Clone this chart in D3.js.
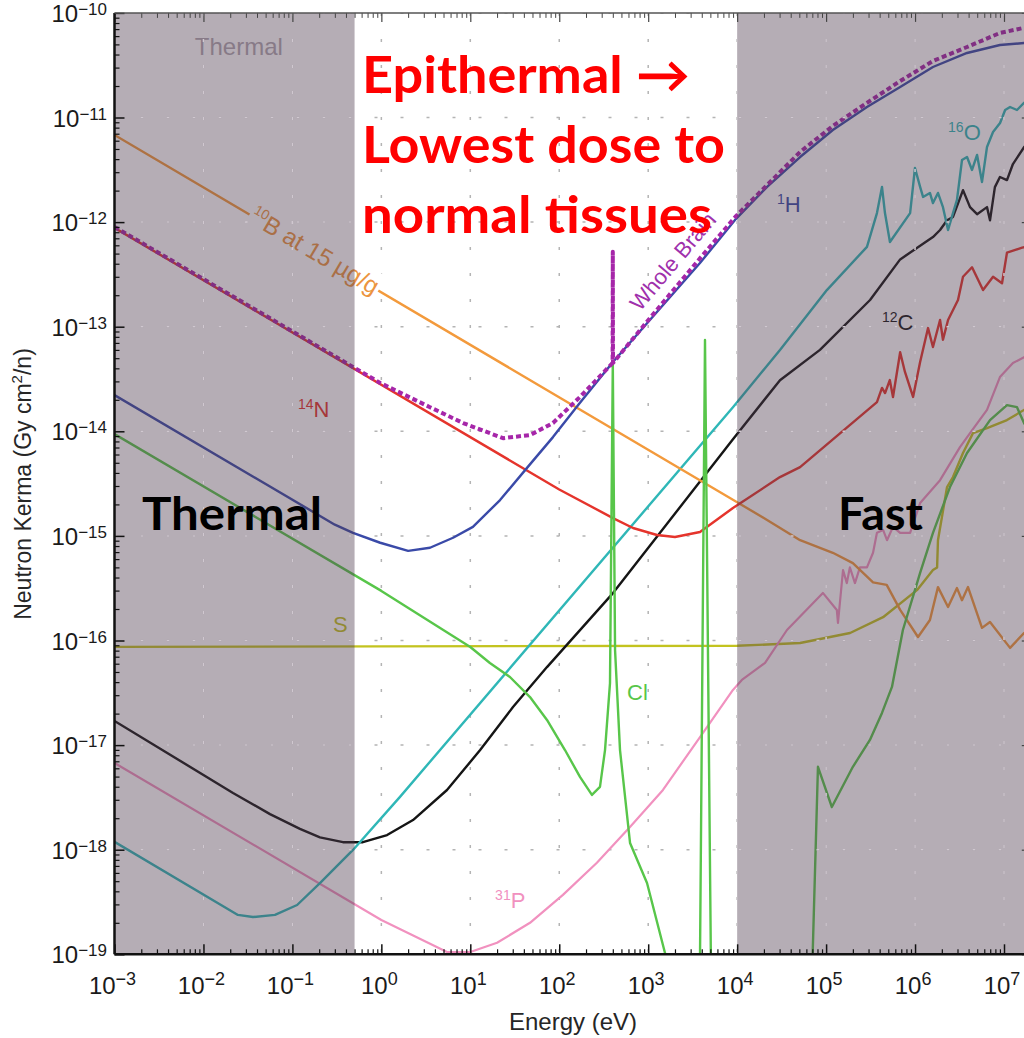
<!DOCTYPE html>
<html>
<head>
<meta charset="utf-8">
<title>Neutron Kerma</title>
<script src="https://cdn.jsdelivr.net/npm/d3@7"></script>
<style>
  * { margin: 0; padding: 0; }
  body { background: #fff; }
  svg { display: block; font-family: "Liberation Sans", Arial, sans-serif; }
</style>
</head>
<body>
<div id="chart"></div>
<script>
// energy in eV, kerma in Gy cm2/n
var xDecades = [-3, -2, -1, 0, 1, 2, 3, 4, 5, 6, 7];
var yDecades = [-10, -11, -12, -13, -14, -15, -16, -17, -18, -19];

var boron10 = [[1e-3, 6.8e-12], [1e4, 2.1e-15], [2.17e4, 1.42e-15], [5.1e4, 9.1e-16], [1.19e5, 6.9e-16],
  [2.0e5, 5.5e-16], [3.37e5, 3.6e-16], [4.8e5, 3.4e-16], [6.8e5, 1.96e-16], [1.08e6, 1.08e-16],
  [1.47e6, 1.57e-16], [1.81e6, 3.24e-16], [2.35e6, 2.09e-16], [2.96e6, 3.17e-16], [3.37e6, 2.43e-16],
  [3.94e6, 3.24e-16], [5.66e6, 1.32e-16], [6.96e6, 1.5e-16], [1.17e7, 8.5e-17], [1.68e7, 1.18e-16],
  [2.2e7, 1.0e-16]];

var nitrogen14 = [[1e-3, 8.8e-13], [100, 2.78e-15], [402, 1.48e-15], [675, 1.19e-15], [1256, 1.02e-15],
  [2000, 9.75e-16], [3820, 1.09e-15], [8970, 1.85e-15], [3.03e4, 3.65e-15], [5.1e4, 4.55e-15],
  [3.73e5, 1.9e-14], [4.25e5, 2.6e-14], [4.6e5, 2.32e-14], [5.2e5, 3.09e-14], [5.65e5, 2.13e-14],
  [6.8e5, 5.7e-14], [7.7e5, 3.69e-14], [9.5e5, 2.13e-14], [1.14e6, 4.6e-14], [1.4e6, 9.7e-14],
  [1.59e6, 6.4e-14], [1.91e6, 1.16e-13], [2.06e6, 7.5e-14], [2.35e6, 1.16e-13], [3.04e6, 1.8e-13],
  [3.46e6, 3.0e-13], [4.37e6, 3.7e-13], [5.81e6, 2.24e-13], [7.53e6, 3.0e-13], [9.5e6, 2.6e-13],
  [1.08e7, 5.1e-13], [1.6e7, 5.7e-13], [2.2e7, 6.0e-13]];

var hydrogen1 = [[1e-3, 2.22e-14], [0.3, 1.28e-15], [0.48, 1.07e-15], [0.97, 8.6e-16], [2.0, 7.2e-16],
  [3.52, 7.7e-16], [6.4, 9.6e-16], [10.7, 1.22e-15], [21.6, 2.2e-15], [43.4, 4.47e-15], [85, 8.8e-15],
  [171, 1.87e-14], [402, 4.6e-14], [3820, 4.06e-13], [9460, 1.05e-12], [2.17e4, 2.17e-12],
  [5.1e4, 4.19e-12], [1.19e5, 7.6e-12], [2.88e5, 1.26e-11], [6.8e5, 1.96e-11], [1.59e6, 3.04e-11],
  [3.84e6, 4.14e-11], [9.0e6, 4.93e-11], [1.68e7, 5.15e-11], [2.2e7, 5.15e-11]];

var wholeBrain = [[1e-3, 9.0e-13], [0.97, 2.9e-14], [3.52, 1.7e-14], [8.3, 1.2e-14], [23.3, 8.6e-15],
  [46.9, 9.2e-15], [85, 1.2e-14], [171, 2.13e-14], [398, 4.5e-14], [400, 5.2e-13], [402, 4.5e-14],
  [1047, 1.21e-13], [3820, 4.5e-13], [9700, 1.14e-12], [2.17e4, 2.26e-12], [5.1e4, 4.68e-12],
  [1.19e5, 8.3e-12], [2.88e5, 1.38e-11], [6.8e5, 2.23e-11], [1.59e6, 3.47e-11], [3.84e6, 4.72e-11],
  [9.0e6, 6.43e-11], [1.68e7, 7.2e-11], [2.2e7, 7.5e-11]];

var oxygen16 = [[1e-3, 1.19e-18], [0.0244, 2.38e-19], [0.036, 2.27e-19], [0.0637, 2.38e-19],
  [0.113, 2.96e-19], [0.204, 4.8e-19], [0.48, 9.95e-19], [1.62, 3.2e-18], [8970, 1.7e-14],
  [3.03e4, 6.0e-14], [1.02e5, 2.24e-13], [2.88e5, 5.8e-13], [3.73e5, 1.22e-12], [4.25e5, 2.17e-12],
  [4.59e5, 1.22e-12], [5.22e5, 6.45e-13], [8.8e5, 1.22e-12], [9.98e5, 3.29e-12], [1.14e6, 2.17e-12],
  [1.23e6, 1.74e-12], [1.47e6, 1.9e-12], [1.59e6, 1.52e-12], [1.81e6, 1.9e-12], [2.06e6, 1.39e-12],
  [2.35e6, 8.4e-13], [2.67e6, 1.22e-12], [2.96e6, 1.63e-12], [3.37e6, 3.92e-12], [3.84e6, 4.19e-12],
  [4.37e6, 3.15e-12], [4.98e6, 4.38e-12], [5.66e6, 2.42e-12], [6.44e6, 5.22e-12], [7.53e6, 7.26e-12],
  [9.03e6, 8.85e-12], [1.03e7, 1.18e-11], [1.17e7, 1.26e-11], [1.4e7, 1.18e-11], [1.68e7, 1.38e-11],
  [2.2e7, 1.55e-11]];

var carbon12 = [[1e-3, 1.7e-17], [0.0215, 3.49e-18], [0.056, 2.19e-18], [0.1216, 1.58e-18], [0.204, 1.31e-18],
  [0.37, 1.18e-18], [0.62, 1.18e-18], [1.16, 1.38e-18],
  [2.27, 1.92e-18], [5.47, 3.72e-18], [12.9, 8.97e-18], [30.2, 2.31e-17], [72.8, 5.57e-17],
  [402, 2.84e-16], [8970, 8.4e-15], [3.03e4, 3.08e-14], [8.53e4, 6.0e-14], [3.12e5, 1.8e-13],
  [6.8e5, 4.4e-13], [1.59e6, 7.2e-13], [1.91e6, 8.4e-13], [2.29e6, 1.04e-12],
  [2.67e6, 1.12e-12], [3.46e6, 2.02e-12], [4.15e6, 1.39e-12], [4.98e6, 1.19e-12], [6.44e6, 1.39e-12],
  [6.96e6, 1.04e-12], [7.9e6, 2.16e-12], [9.0e6, 2.7e-12], [1.08e7, 2.52e-12], [1.26e7, 3.59e-12],
  [1.68e7, 5.2e-12], [2.2e7, 6.5e-12]];

var sulfur = [[1e-3, 8.7e-17], [1e4, 8.9e-17], [5.1e4, 9.46e-17], [1.86e5, 1.18e-16], [4.37e5, 1.67e-16],
  [1.05e6, 3.03e-16], [1.59e6, 4.71e-16], [1.77e6, 5.0e-16], [1.81e6, 9.1e-16], [2.29e6, 2.93e-15],
  [2.67e6, 3.65e-15], [3.46e6, 6.2e-15], [4.48e6, 9.6e-15], [6.44e6, 1.07e-14], [1.08e7, 1.28e-14],
  [1.68e7, 1.6e-14], [2.2e7, 1.8e-14]];

var chlorine = [[1e-3, 9.4e-15], [1, 2.98e-16], [10, 8.67e-17], [16.6, 6.1e-17], [27.9, 4.48e-17],
  [46.9, 2.88e-17], [72.8, 1.74e-17], [116, 8.97e-18],
  [171, 4.96e-18], [233, 3.34e-18], [287, 3.98e-18], [327, 8.97e-18], [372, 3.92e-17], [400, 4.5e-14],
  [424, 8.1e-17], [482, 8.97e-18], [625, 1.16e-18], [970, 4.8e-19], [1545, 1.03e-19], [1675, 7.9e-20],
  [3800, 5e-20], [4350, 7.46e-14], [5100, 5e-20], [6.9e4, 5e-20], [8.1e4, 6.2e-18], [1.16e5, 2.56e-18],
  [2.0e5, 6.2e-18], [3.11e5, 1.12e-17], [4.25e5, 2.03e-17], [5.5e5, 3.6e-17], [7.3e5, 1.26e-16],
  [1.14e6, 4.43e-16], [1.59e6, 1.07e-15], [2.47e6, 2.93e-15], [3.84e6, 6.2e-15], [6.96e6, 1.28e-14],
  [1.08e7, 1.78e-14], [1.4e7, 1.7e-14], [1.68e7, 1.2e-14], [2.2e7, 8.3e-15]];

var phosphorus31 = [[1e-3, 6.75e-18], [1, 2.13e-19], [5.47, 1.05e-19], [10, 1.05e-19], [20, 1.29e-19],
  [46.9, 2.0e-19], [110, 3.7e-19], [265, 7.5e-19], [624, 1.65e-18], [1466, 3.73e-18], [4130, 1.31e-17],
  [8970, 3.37e-17], [1.13e4, 4.2e-17], [2.06e4, 6.1e-17], [3.63e4, 1.26e-16], [9.2e4, 2.85e-16],
  [1.32e5, 1.96e-16], [1.36e5, 1.47e-16], [1.55e5, 4.72e-16], [1.71e5, 3.54e-16], [1.85e5, 5.0e-16],
  [2.11e5, 3.54e-16], [2.4e5, 5.0e-16], [2.88e5, 5.0e-16], [3.37e5, 6.9e-16], [3.73e5, 1.07e-15],
  [4.37e5, 1.14e-15], [4.84e5, 9.1e-16], [5.65e5, 1.22e-15], [6.8e5, 1.07e-15], [8.8e5, 1.07e-15],
  [1.14e6, 2.06e-15], [1.91e6, 3.41e-15], [3.2e6, 7.05e-15], [4.15e6, 9.6e-15], [6.44e6, 1.6e-14],
  [9.0e6, 3.3e-14], [1.26e7, 4.5e-14], [1.68e7, 5.1e-14], [2.2e7, 5.7e-14]];

// energy bands shaded on the chart (eV)
var thermalBand = [1e-3, 0.5];
var fastBand = [1e4, 2e7];

var series = [
  {data: sulfur, color: '#c3c31f', width: 2.4},
  {data: phosphorus31, color: '#f191bf', width: 2.2},
  {data: carbon12, color: '#151515', width: 2.4},
  {data: oxygen16, color: '#2fb7b7', width: 2.4},
  {data: boron10, color: '#f39a3c', width: 2.4},
  {data: nitrogen14, color: '#e5342c', width: 2.4},
  {data: chlorine, color: '#58c64a', width: 2.4},
  {data: hydrogen1, color: '#3a4aa8', width: 2.4},
  {data: wholeBrain, color: '#a626a9', width: 4, dash: '5,3'}
];

var labels = [
  {sup: '14', text: 'N', E: 0.1155, K: 1.37e-14, color: '#e5342c'},
  {sup: '1', text: 'H', E: 2.8e4, K: 1.25e-12, color: '#3a4aa8'},
  {sup: '16', text: 'O', E: 2.35e6, K: 6.1e-12, color: '#2fb7b7'},
  {sup: '12', text: 'C', E: 4.25e5, K: 9.3e-14, color: '#151515'},
  {sup: '', text: 'S', E: 0.286, K: 1.2e-16, color: '#c3c31f'},
  {sup: '', text: 'Cl', E: 578, K: 2.7e-17, color: '#58c64a'},
  {sup: '31', text: 'P', E: 19, K: 2.77e-19, color: '#f191bf'}
];

var W = 1024, H = 1038;
var svg = d3.select('#chart').append('svg').attr('width', W).attr('height', H);

var x = d3.scaleLog().domain([1e-3, 1e7]).range([114.5, 1004]);
var y = d3.scaleLog().domain([1e-19, 1e-10]).range([954.3, 12.9]);
var x0 = x(1e-3), x1 = x(2e7), y0 = y(1e-19), y1 = y(1e-10);

var defs = svg.append('defs');
defs.append('clipPath').attr('id', 'plot')
  .append('rect').attr('x', x0).attr('y', y1).attr('width', x1 - x0).attr('height', y0 - y1);
var bandClip = defs.append('clipPath').attr('id', 'bands');
[thermalBand, fastBand].forEach(function(b) {
  bandClip.append('rect').attr('x', x(b[0])).attr('y', y1).attr('width', x(b[1]) - x(b[0])).attr('height', y0 - y1);
});

function drawGrid(parent, color) {
  var g = parent.append('g').attr('stroke', color).attr('stroke-width', 1.5).attr('stroke-dasharray', '3,23');
  xDecades.forEach(function(p) {
    g.append('line').attr('x1', x(Math.pow(10, p))).attr('x2', x(Math.pow(10, p))).attr('y1', y1).attr('y2', y0);
  });
  yDecades.forEach(function(p) {
    g.append('line').attr('x1', x0).attr('x2', x1).attr('y1', y(Math.pow(10, p))).attr('y2', y(Math.pow(10, p)));
  });
  return g;
}

var plot = svg.append('g').attr('clip-path', 'url(#plot)');

// dotted grid under the curves
drawGrid(plot, '#b4b4b4');

var line = d3.line().x(function(d) { return x(d[0]); }).y(function(d) { return y(d[1]); });

series.forEach(function(s) {
  plot.append('path').attr('d', line(s.data))
    .attr('fill', 'none').attr('stroke', s.color).attr('stroke-width', s.width)
    .attr('stroke-linejoin', 'round')
    .attr('stroke-dasharray', s.dash || null);
});

// element labels
labels.forEach(function(l) {
  var t = plot.append('text').attr('x', x(l.E)).attr('y', y(l.K))
    .attr('fill', l.color).attr('font-size', 22);
  if (l.sup) t.append('tspan').attr('font-size', 14).attr('dy', -8).text(l.sup);
  t.append('tspan').attr('dy', l.sup ? 8 : 0).text(l.text);
});

// 10B label sits on its own line
(function() {
  var ang = Math.atan2(y(boron10[1][1]) - y(boron10[0][1]), x(boron10[1][0]) - x(boron10[0][0])) * 180 / Math.PI;
  var e = 0.175, k = 6.8e-12 * Math.pow(e / 1e-3, -0.5);
  var g = plot.append('g').attr('transform', 'translate(' + x(e) + ',' + y(k) + ') rotate(' + ang + ')');
  var t = g.append('text').attr('text-anchor', 'middle').attr('y', 7)
    .attr('fill', '#ec9440').attr('font-size', 24);
  t.append('tspan').attr('font-size', 14).attr('dy', -10).text('10');
  t.append('tspan').attr('dy', 10).text('B at 15 \u00b5g/g');
  var bb = t.node().getBBox();
  g.insert('rect', 'text').attr('x', bb.x - 2).attr('y', bb.y).attr('width', bb.width + 4)
    .attr('height', bb.height).attr('fill', '#fff');
})();

// Whole Brain label along the rising branch
(function() {
  var a = wholeBrain[11], b = wholeBrain[13];
  var ang = Math.atan2(y(b[1]) - y(a[1]), x(b[0]) - x(a[0])) * 180 / Math.PI;
  plot.append('text').attr('transform', 'translate(' + x(809) + ',' + y(1.38e-13) + ') rotate(' + ang + ')')
    .attr('fill', '#a030ac').attr('font-size', 22).text('Whole Brain');
})();

// small grey band name
plot.append('text').attr('x', x(0.025)).attr('y', y(3.96e-11)).attr('text-anchor', 'middle')
  .attr('font-size', 24).attr('fill', '#b0a8b0').text('Thermal');

// shaded bands
[thermalBand, fastBand].forEach(function(b) {
  plot.append('rect').attr('x', x(b[0])).attr('y', y1).attr('width', x(b[1]) - x(b[0]))
    .attr('height', y0 - y1).attr('fill', 'rgb(79,60,79)').attr('fill-opacity', 0.42);
});

// grid shows lighter on top of the shading
drawGrid(svg.append('g').attr('clip-path', 'url(#bands)'), '#d0c8d0');

// ticks
var xMajor = xDecades.map(function(p) { return Math.pow(10, p); });
var yMajor = yDecades.map(function(p) { return Math.pow(10, p); });
var xMinor = [], yMinor = [];
xDecades.forEach(function(p) { for (var m = 2; m < 10; m++) if (m * Math.pow(10, p) < 2e7) xMinor.push(m * Math.pow(10, p)); });
yDecades.forEach(function(p) { if (p > -19) for (var m = 2; m < 10; m++) yMinor.push(m * Math.pow(10, p - 1)); });

function axisG(gen, tx, ty, color, width) {
  var g = svg.append('g').attr('transform', 'translate(' + tx + ',' + ty + ')').call(gen);
  g.selectAll('.domain').remove();
  g.selectAll('line').attr('stroke', color).attr('stroke-width', width);
  return g;
}
axisG(d3.axisBottom(x).tickValues(xMajor).tickSize(-10).tickFormat(''), 0, y0, '#111', 1.5);
axisG(d3.axisBottom(x).tickValues(xMinor).tickSize(-5).tickFormat(''), 0, y0, '#111', 1.2);
axisG(d3.axisTop(x).tickValues(xMajor).tickSize(-9).tickFormat(''), 0, y1, '#444', 1.2);
axisG(d3.axisTop(x).tickValues(xMinor).tickSize(-5).tickFormat(''), 0, y1, '#444', 1);
axisG(d3.axisLeft(y).tickValues(yMajor).tickSize(-10).tickFormat(''), x0, 0, '#111', 1.5);
axisG(d3.axisLeft(y).tickValues(yMinor).tickSize(-5).tickFormat(''), x0, 0, '#111', 1.2);
axisG(d3.axisRight(y).tickValues(yMajor).tickSize(-9).tickFormat(''), x1, 0, '#444', 1.2);

// axis lines
svg.append('line').attr('x1', x0).attr('x2', x1).attr('y1', y0).attr('y2', y0).attr('stroke', '#111').attr('stroke-width', 2.5);
svg.append('line').attr('x1', x0).attr('x2', x0).attr('y1', y1).attr('y2', y0).attr('stroke', '#111').attr('stroke-width', 2.5);
svg.append('line').attr('x1', x0).attr('x2', x1).attr('y1', y1).attr('y2', y1).attr('stroke', '#555').attr('stroke-width', 1.5);
svg.append('line').attr('x1', x1).attr('x2', x1).attr('y1', y1).attr('y2', y0).attr('stroke', '#555').attr('stroke-width', 1.5);

// tick labels
xDecades.forEach(function(p) {
  var t = svg.append('text').attr('x', x(Math.pow(10, p)) - 2).attr('y', 994)
    .attr('text-anchor', 'middle').attr('font-size', 24).attr('fill', '#1a1a1a');
  t.append('tspan').text('10');
  t.append('tspan').attr('font-size', 18).attr('dy', -9).text(String(p).replace('-', '\u2212'));
});
yDecades.forEach(function(p) {
  var t = svg.append('text').attr('x', 107).attr('y', y(Math.pow(10, p)) + 9)
    .attr('text-anchor', 'end').attr('font-size', 24).attr('fill', '#1a1a1a');
  t.append('tspan').text('10');
  t.append('tspan').attr('font-size', 17).attr('dy', -7).text(String(p).replace('-', '\u2212'));
});

// axis titles
svg.append('text').attr('x', 573).attr('y', 1030).attr('text-anchor', 'middle')
  .attr('font-size', 24).attr('fill', '#262626').text('Energy (eV)');
var yt = svg.append('text').attr('transform', 'translate(31,484) rotate(-90)').attr('text-anchor', 'middle')
  .attr('font-size', 23).attr('fill', '#262626');
yt.append('tspan').text('Neutron Kerma (Gy cm');
yt.append('tspan').attr('font-size', 15).attr('dy', -9).text('2');
yt.append('tspan').attr('dy', 9).text('/n)');

// slide annotations
var note = svg.append('g').attr('font-family', 'Lato, "Open Sans", sans-serif').attr('font-weight', 'bold');
note.append('text').attr('x', 142).attr('y', 530).attr('font-size', 46).attr('fill', '#000')
  .attr('textLength', 180).attr('lengthAdjust', 'spacingAndGlyphs').text('Thermal');
note.append('text').attr('x', 838).attr('y', 530).attr('font-size', 46).attr('fill', '#000')
  .attr('textLength', 85).attr('lengthAdjust', 'spacingAndGlyphs').text('Fast');
[['Epithermal \u2192', 93, 328], ['Lowest dose to', 163, 363], ['normal tissues', 233, 350]].forEach(function(r) {
  note.append('text').attr('x', 362).attr('y', r[1]).attr('font-size', 51).attr('fill', '#ff0000')
    .attr('textLength', r[2]).attr('lengthAdjust', 'spacingAndGlyphs').text(r[0]);
});
</script>
</body>
</html>
